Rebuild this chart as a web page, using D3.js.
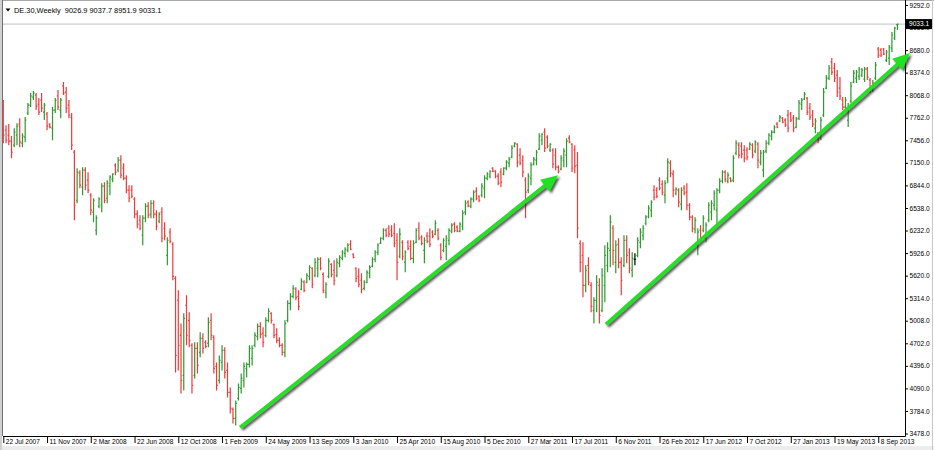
<!DOCTYPE html>
<html>
<head>
<meta charset="utf-8">
<script src="https://cdn.jsdelivr.net/npm/d3@7"></script>
<style>
  body { margin: 0; background: #fff; }
  svg { display: block; }
  text { font-family: "Liberation Sans", Arial, sans-serif; }
</style>
</head>
<body>
<svg id="chart"></svg>
<script>
// DE.30 weekly bars (first bar = week of 22 Jul 2007)
const firstWeek = "2007-07-22";
const symbol = "DE.30,Weekly";

const opens = [7839,7594,7526,7444,7390,7526,7676,7417,7499,7825,
  7934,8043,8070,7948,8002,7839,7812,7676,7621,7866,
  8057,7866,8192,8111,7934,7771,7296,6643,7010,6820,
  7051,6915,6711,6481,6236,6562,6575,6834,6670,6834,
  6929,7119,7051,7187,7078,6942,6779,6779,6657,6454,
  6372,6168,6399,6562,6454,6602,6454,6358,6481,6263,
  5896,6209,6046,5584,5285,4810,4266,5217,5013,4674,
  4266,4633,4579,4769,4715,4701,5013,4783,4388,4198,
  4443,4606,4334,4036,3805,3682,3954,4090,4198,4361,
  4416,4497,4674,4796,4932,4837,4810,5013,5108,4959,
  4823,4742,4674,4579,5013,5244,5339,5435,5339,5435,
  5530,5530,5611,5720,5625,5720,5842,5638,5394,5611,
  5774,5693,5625,5787,5855,5923,5964,6046,5910,5720,
  5611,5557,5448,5530,5652,5747,5842,5937,6059,6127,
  6236,6263,6236,6195,6100,5883,6073,5801,6073,6018,
  5855,6073,6263,6141,5964,6155,6155,6209,6182,6236,
  6032,5964,6018,6100,6223,6318,6277,6223,6290,6481,
  6616,6562,6657,6765,6697,6711,6806,6942,6970,7078,
  7037,6970,7024,6997,7078,7146,7228,7377,7404,7255,
  7187,6915,6779,6942,7133,7187,7336,7458,7567,7499,
  7323,7323,7255,7092,7065,7187,7255,7485,7404,7323,
  7119,6059,5896,5489,5760,5489,5149,5285,5489,5149,
  5489,5760,5964,6263,5801,6046,5801,5760,6100,5937,
  5693,5842,5896,6073,6168,6331,6426,6508,6779,6779,
  6915,6860,6711,6942,7146,6997,6738,6779,6589,6806,
  6752,6575,6413,6250,6032,6236,6236,6127,6372,6481,
  6575,6508,6779,6901,7024,6901,6942,6915,7282,7390,
  7377,7323,7323,7336,7390,7309,7404,7160,7051,7309,
  7417,7513,7567,7676,7717,7757,7730,7798,7812,7757,
  7635,7757,7948,8016,8029,7893,7798,7621,7553,7485,
  7798,8165,8300,8518,8436,8341,8165,8002,7907,7730,
  7988,8246,8300,8327,8341,8287,8423,8273,8138,8300,
  8695,8681,8695,8545,8572,8708,8844,9026.9];

const highs = [8002,7662,7676,7513,7621,7689,7757,7553,7771,7961,
  8097,8124,8097,8029,8097,7961,7839,7689,7907,8029,
  8138,8029,8246,8178,8002,7825,7323,7078,7051,7092,
  7092,7024,6738,6670,6440,6684,6874,6888,6915,6983,
  7010,7146,7228,7255,7146,6983,6847,6847,6684,6508,
  6440,6440,6602,6616,6643,6643,6508,6481,6548,6345,
  6141,6263,6073,5611,5421,4972,5108,5353,5122,4701,
  4715,4715,4851,4837,4742,5054,5108,4810,4443,4538,
  4674,4647,4443,4103,3832,3927,4157,4293,4443,4443,
  4674,4674,4851,4972,4986,4918,5054,5176,5122,4972,
  4905,4783,4701,5013,5285,5380,5489,5462,5421,5584,
  5557,5652,5760,5733,5855,5869,5869,5665,5530,5855,
  5787,5828,5855,5896,5964,6005,6059,6100,5923,5733,
  5720,5652,5557,5693,5760,5869,5964,6059,6141,6263,
  6263,6304,6304,6331,6195,6263,6100,5964,6100,6100,
  6100,6263,6345,6168,6141,6209,6263,6236,6372,6263,
  6059,6127,6168,6263,6331,6345,6304,6345,6508,6643,
  6643,6684,6779,6820,6711,6874,6983,7024,7051,7092,
  7051,7010,7078,7092,7187,7228,7390,7431,7417,7350,
  7255,6956,7010,7160,7228,7323,7553,7553,7621,7526,
  7417,7350,7350,7119,7255,7350,7485,7526,7417,7390,
  7296,6100,6073,5760,5869,5530,5326,5625,5584,5720,
  6032,6073,6440,6304,6100,6127,5869,6168,6168,5991,
  5937,5923,6141,6263,6304,6440,6575,6643,6847,6820,
  6956,6915,6915,7214,7187,7051,6820,6806,6820,6847,
  6874,6602,6440,6413,6263,6304,6440,6345,6616,6643,
  6779,6806,6942,7051,7051,7024,6956,7255,7458,7431,
  7431,7390,7363,7431,7417,7458,7431,7323,7323,7458,
  7553,7594,7662,7703,7798,7771,7757,7866,7839,7798,
  7771,8002,8029,8111,8043,7961,7866,7757,7567,7771,
  8165,8341,8477,8572,8504,8409,8314,8043,8043,7961,
  8246,8409,8409,8450,8436,8450,8450,8300,8273,8518,
  8722,8708,8708,8681,8749,8926,8994,9037.7];

const lows = [7417,7417,7390,7214,7363,7390,7363,7363,7431,7798,
  7907,8002,7866,7798,7839,7730,7594,7621,7458,7825,
  7866,7757,8070,7825,7757,7323,6372,6602,6806,6711,
  6779,6738,6440,6345,6168,6535,6481,6602,6602,6711,
  6888,6983,7024,6942,6915,6738,6616,6670,6399,6263,
  6236,6032,6345,6399,6399,6399,6236,6331,6073,6100,
  5760,6059,5557,4307,4334,4022,4063,4674,4647,4022,
  4225,4293,4511,4565,4633,4647,4742,4293,4063,4157,
  4334,4225,3967,3750,3614,3588,3927,4022,4103,4239,
  4375,4402,4647,4742,4769,4647,4783,4986,4972,4769,
  4701,4647,4538,4511,4986,5149,5312,5285,5149,5421,
  5394,5516,5557,5448,5598,5598,5693,5380,5312,5584,
  5598,5489,5598,5733,5828,5869,5937,5964,5855,5530,
  5462,5380,5421,5516,5584,5733,5801,5896,6050,6100,
  6141,6141,6141,6005,5557,5855,5828,5665,5964,5828,
  5787,6059,6100,6032,5787,6059,6005,6127,6168,6100,
  5828,5937,5828,6032,6195,6209,6209,6209,6236,6440,
  6548,6535,6616,6643,6616,6684,6670,6915,6942,7024,
  6942,6847,6820,6983,7051,7092,7214,7363,7092,7119,
  6956,6399,6738,6847,7119,7119,7323,7390,7296,7350,
  7296,7078,7051,7010,7051,7092,7092,7417,7024,7010,
  6127,5665,5326,5394,5489,5122,4972,5122,4972,5122,
  5258,5665,5733,5760,5652,5720,5353,5733,5787,5652,
  5598,5760,5869,5991,6100,6304,6399,6413,6643,6670,
  6779,6711,6602,6874,6956,6684,6711,6548,6508,6711,
  6508,6372,6209,6195,5896,6073,6209,6073,6345,6372,
  6508,6304,6738,6874,6888,6874,6888,6888,7255,7214,
  7214,7160,7187,7323,7214,7282,7078,7119,6956,7282,
  7390,7458,7553,7621,7703,7689,7635,7567,7703,7567,
  7621,7730,7866,8002,7798,7730,7635,7553,7417,7458,
  7771,8150,8273,8341,8246,8043,8002,7866,7866,7635,
  7961,8232,8232,8273,8314,8246,8273,8097,8111,8273,
  8572,8586,8613,8518,8477,8654,8817,8951.9];

const closes = [7526,7458,7444,7296,7567,7649,7431,7513,7730,7934,
  8057,8097,7920,7839,7893,7934,7649,7635,7866,8002,
  7907,8002,8097,7893,7798,7390,6575,7024,6847,7051,
  6847,6779,6508,6643,6399,6657,6834,6643,6874,6956,
  6997,7024,7187,6983,6942,6779,6670,6697,6454,6318,
  6263,6399,6562,6440,6602,6454,6290,6454,6127,6155,
  6100,6086,5611,4538,4674,4198,5040,4810,4742,4130,
  4633,4402,4769,4633,4660,4986,4810,4361,4130,4470,
  4606,4307,4036,3818,3682,3886,4103,4225,4388,4416,
  4633,4633,4810,4932,4823,4715,5013,5135,5013,4810,
  4742,4674,4579,4972,5244,5339,5448,5326,5203,5543,
  5421,5625,5733,5503,5801,5842,5720,5421,5503,5815,
  5638,5557,5801,5869,5937,5978,6032,5978,5869,5584,
  5503,5435,5530,5665,5733,5842,5937,6032,6127,6236,
  6168,6182,6168,6059,5801,6182,5883,5937,5991,5855,
  6059,6236,6127,6059,6100,6086,6046,6155,6331,6127,
  5869,6100,6127,6236,6304,6236,6223,6318,6467,6602,
  6562,6657,6752,6670,6643,6834,6942,6997,7037,7037,
  6970,6874,6888,7078,7160,7201,7350,7417,7160,7146,
  7024,6752,6970,7119,7201,7296,7513,7540,7350,7377,
  7404,7133,7092,7037,7214,7309,7444,7431,7078,7105,
  6263,5801,5489,5693,5530,5203,5285,5530,5081,5625,
  5896,5991,6345,5964,6032,5801,5557,6100,5896,5720,
  5855,5842,6100,6209,6263,6413,6535,6616,6684,6697,
  6806,6752,6874,7160,7010,6779,6793,6616,6779,6738,
  6575,6413,6263,6372,6209,6127,6399,6304,6575,6602,
  6738,6779,6901,7024,6929,6983,6901,7214,7417,7255,
  7269,7214,7228,7404,7255,7431,7187,7282,7296,7417,
  7526,7567,7635,7635,7771,7703,7662,7621,7730,7621,
  7744,7961,8002,8084,7839,7771,7676,7717,7458,7730,
  8111,8300,8436,8382,8300,8111,8057,7907,8002,7893,
  8192,8368,8382,8423,8409,8423,8314,8138,8232,8477,
  8613,8613,8627,8654,8722,8885,8980,9033.1];

// axis labels
const priceTicks = [3478,3784,4090,4396,4702,5008,5314,5620,5926,6232,
  6538,6844,7150,7456,7762,8068,8374,8680,8986,9292];
const dateTicks = ["22 Jul 2007","11 Nov 2007","2 Mar 2008","22 Jun 2008","12 Oct 2008",
  "1 Feb 2009","24 May 2009","13 Sep 2009","3 Jan 2010","25 Apr 2010","15 Aug 2010",
  "5 Dec 2010","27 Mar 2011","17 Jul 2011","6 Nov 2011","26 Feb 2012","17 Jun 2012",
  "7 Oct 2012","27 Jan 2013","19 May 2013","8 Sep 2013"];
const weeksPerDateTick = 16;

// hand-drawn trend arrows: [week index, price]
const arrows = [
  { from: [86.6, 3560], to: [202.9, 6983] },
  { from: [220.4, 4959], to: [331.6, 8640] }
];

const width = 934, height = 450;
const plotLeft = 3, plotRight = 905, plotBottom = 436;
const upColor = "#2c9a2c", downColor = "#f03a3a", dojiColor = "#000";

const svg = d3.select("#chart").attr("width", width).attr("height", height);

const last = closes.length - 1;
const xScale = d3.scaleLinear().domain([0, last]).range([3.3, 897.4]);
const yScale = d3.scaleLinear().domain([3478, 9292]).range([433.5, 5]);

// window frame
svg.append("rect").attr("x", 0).attr("y", 0).attr("width", width).attr("height", height).attr("fill", "#fff");
svg.append("rect").attr("x", 0).attr("y", 446).attr("width", width).attr("height", 4).attr("fill", "#ececec");
svg.append("line").attr("x1", 0).attr("x2", width).attr("y1", 0.5).attr("y2", 0.5).attr("stroke", "#a8a8a8");
svg.append("rect").attr("x", 0).attr("y", 0).attr("width", 2).attr("height", height).attr("fill", "#d0d0d0");
svg.append("line").attr("x1", 2.5).attr("x2", 2.5).attr("y1", 0).attr("y2", plotBottom).attr("stroke", "#707070");
svg.append("line").attr("x1", width - 1.5).attr("x2", width - 1.5).attr("y1", 0).attr("y2", height).attr("stroke", "#c8c8c8");

// bid line
svg.append("line")
  .attr("x1", plotLeft).attr("x2", plotRight)
  .attr("y1", yScale(closes[last])).attr("y2", yScale(closes[last]))
  .attr("stroke", "#c0c0c0");

// OHLC bars
const idx = d3.range(closes.length);
svg.append("g").selectAll("path").data(idx).join("path")
  .attr("fill", "none")
  .attr("stroke-width", 1.2)
  .attr("stroke", i => closes[i] > opens[i] ? upColor : closes[i] < opens[i] ? downColor : dojiColor)
  .attr("d", i => {
    const x = xScale(i);
    return `M${x},${yScale(highs[i])}V${yScale(lows[i])}` +
      `M${x - 1.2},${yScale(opens[i])}H${x}` +
      `M${x},${yScale(closes[i])}H${x + 1.2}`;
  });

// price axis (right)
const yAxis = d3.axisRight(yScale).tickValues(priceTicks).tickSize(3).tickSizeOuter(0)
  .tickFormat(d3.format(".1f"));
const yg = svg.append("g").attr("transform", `translate(${plotRight},0)`).call(yAxis);
yg.select(".domain").remove();
yg.selectAll(".tick line").attr("stroke", "#000");
yg.selectAll(".tick text").attr("x", 4.5).attr("font-size", "6.6px").attr("fill", "#000")
  .attr("font-family", "Liberation Sans, Arial, sans-serif");

// date axis (bottom)
const xAxis = d3.axisBottom(xScale)
  .tickValues(dateTicks.map((d, k) => k * weeksPerDateTick))
  .tickFormat((d, k) => dateTicks[k]).tickSize(7).tickSizeOuter(0);
const xg = svg.append("g").attr("transform", `translate(0,${plotBottom})`).call(xAxis);
xg.select(".domain").remove();
xg.selectAll(".tick line").attr("stroke", "#000");
xg.selectAll(".tick text").attr("text-anchor", "start").attr("x", 2).attr("y", 3.5)
  .attr("font-size", "6.6px").attr("fill", "#000")
  .attr("font-family", "Liberation Sans, Arial, sans-serif");

// frame lines
svg.append("line").attr("x1", plotLeft).attr("x2", plotRight + 0.5)
  .attr("y1", plotBottom + 0.5).attr("y2", plotBottom + 0.5).attr("stroke", "#000");
svg.append("line").attr("x1", plotRight + 0.5).attr("x2", plotRight + 0.5)
  .attr("y1", 0).attr("y2", plotBottom + 0.5).attr("stroke", "#000");

// last price tag
const tagY = yScale(closes[last]);
svg.append("rect").attr("x", plotRight + 1).attr("y", tagY - 5).attr("width", 26).attr("height", 10).attr("fill", "#000");
svg.append("text").attr("x", plotRight + 4).attr("y", tagY).attr("dy", "0.35em")
  .attr("font-size", "6.6px").attr("fill", "#fff").text(d3.format(".1f")(closes[last]));

// header
svg.append("path").attr("d", "M5.5,8.5H10.5L8,11.5Z").attr("fill", "#000");
const f1 = d3.format(".1f");
svg.append("text").attr("x", 14).attr("y", 12.5).attr("font-size", "7.4px").attr("fill", "#000")
  .attr("xml:space", "preserve")
  .text(`${symbol}  ${f1(opens[last])} ${f1(highs[last])} ${f1(lows[last])} ${f1(closes[last])}`);

// arrows
const defs = svg.append("defs");
const shadow = defs.append("filter").attr("id", "shadow").attr("x", "-10%").attr("y", "-10%").attr("width", "130%").attr("height", "130%");
shadow.append("feDropShadow").attr("dx", 2).attr("dy", 2).attr("stdDeviation", 1)
  .attr("flood-color", "#202020").attr("flood-opacity", 0.75);

const ag = svg.append("g").attr("filter", "url(#shadow)");
arrows.forEach(a => {
  const x0 = xScale(a.from[0]), y0 = yScale(a.from[1]);
  const x1 = xScale(a.to[0]), y1 = yScale(a.to[1]);
  const len = Math.hypot(x1 - x0, y1 - y0);
  const ux = (x1 - x0) / len, uy = (y1 - y0) / len;
  const headLen = 17, headHalf = 7.5;
  const bx = x1 - ux * headLen, by = y1 - uy * headLen;
  ag.append("line").attr("x1", x0).attr("y1", y0).attr("x2", bx + ux * 2).attr("y2", by + uy * 2)
    .attr("stroke", "#22e022").attr("stroke-width", 3.6).attr("stroke-linecap", "butt");
  ag.append("path")
    .attr("d", `M${x1},${y1}L${bx - uy * headHalf},${by + ux * headHalf}L${bx + uy * headHalf},${by - ux * headHalf}Z`)
    .attr("fill", "#22e022");
});
</script>
</body>
</html>
